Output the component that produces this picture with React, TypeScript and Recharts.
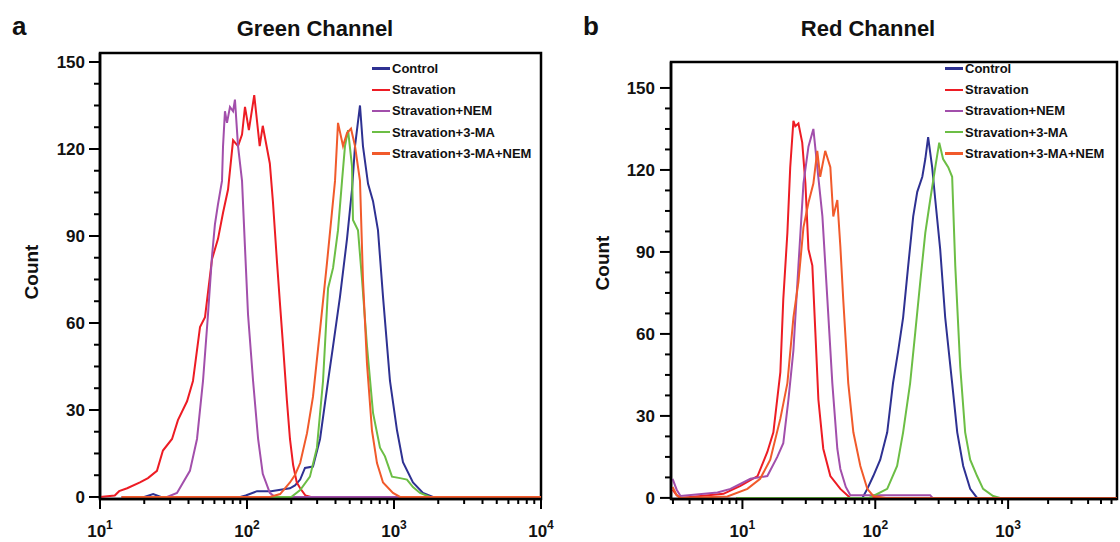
import React from 'react';
import { LineChart, Line, XAxis, YAxis, Legend, ReferenceArea } from 'recharts';

const FONT = '"Liberation Sans", Arial, sans-serif';

const seriesNames = ['Control', 'Stravation', 'Stravation+NEM', 'Stravation+3-MA', 'Stravation+3-MA+NEM'];
const seriesColors = ['#2E3192', '#ED1C24', '#A24FAB', '#6CBE45', '#F15A2B'];

type Pt = [number, number];

// Green channel histograms: [fluorescence, count]
const greenControl: Pt[] = [
  [20, 0], [23, 1], [26, 0], [90, 0], [98, 0.5], [117, 2], [146, 2], [165, 2.4], [196, 3], [212, 4], [230, 6],
  [248, 10], [281, 10.5], [314, 20], [356, 40], [385, 52], [429, 69], [479, 89], [518, 106], [543, 121],
  [587, 135], [615, 121], [666, 108], [720, 102], [778, 92], [842, 69], [939, 40], [1048, 23], [1151, 12],
  [1346, 5], [1574, 1.4], [1841, 0], [10000, 0],
];
const greenStravation: Pt[] = [
  [10, 0], [12.6, 0.5], [13.5, 2], [15.3, 3], [18.7, 5], [21.2, 6.5], [24.4, 9], [26.8, 16], [30.9, 20],
  [33.9, 26.5], [39.1, 33], [42.9, 40], [47.9, 58.6], [51.8, 62], [57.8, 82], [63.5, 89], [68.7, 98],
  [74.3, 106], [80.4, 123], [86.9, 121], [92.5, 125], [96.9, 134.5], [103, 126.5], [112, 138.6], [122, 121],
  [128, 128], [143, 115], [150, 102], [160, 81], [168, 66], [176, 52], [187, 33], [196, 20], [206, 11],
  [218, 5], [230, 3], [250, 0.5], [272, 0], [10000, 0],
];
const greenNem: Pt[] = [
  [14, 0], [28.6, 0], [33.4, 1.4], [40.9, 9], [45.7, 20], [50.2, 40], [54.3, 63], [57.8, 83], [60.5, 94],
  [63.5, 101], [67.6, 109], [68.7, 121], [70.8, 133], [73.1, 129], [76.6, 134.5], [80.4, 133], [82.8, 137],
  [86.9, 121], [92.5, 109], [96.9, 86], [101.6, 63], [110, 40], [119, 20], [128, 8], [143, 1.4], [155, 0],
  [3000, 0],
];
const greenMa: Pt[] = [
  [100, 0], [200, 0], [230, 2.4], [268, 7], [299, 17], [329, 40], [356, 72], [385, 79], [416, 92], [443, 109],
  [464, 121], [487, 126.5], [518, 114], [526, 95.5], [569, 92], [606, 75], [655, 52], [720, 29], [803, 17],
  [868, 14], [969, 7], [1099, 6.5], [1225, 6], [1346, 3.4], [1503, 1.4], [1758, 0], [10000, 0],
];
const greenMaNem: Pt[] = [
  [14, 0], [143, 0], [168, 1], [196, 5], [212, 7.6], [230, 11.7], [256, 22], [281, 34.5], [314, 57.6],
  [350, 80.7], [378, 98], [397, 109], [416, 129], [450, 121], [479, 125.5], [510, 127], [543, 121],
  [587, 109], [615, 75], [655, 46], [708, 23], [766, 11.7], [842, 5], [984, 1.4], [1099, 0], [10000, 0],
];

// Red channel histograms: [fluorescence, count]
const redControl: Pt[] = [
  [9, 0], [80, 0], [87.1, 3.3], [96.6, 8], [109, 14], [123, 24], [136, 42], [149, 54], [162, 66], [177, 85],
  [193, 103], [207, 112], [226, 117.5], [238, 124], [250, 132], [268, 121], [283, 109], [308, 91], [336, 66],
  [379, 42], [414, 24], [459, 11.7], [518, 3.3], [584, 0], [6600, 0],
];
const redStravation: Pt[] = [
  [2.98, 3], [3.2, 1], [3.42, 0], [7.2, 1.5], [9.66, 4.4], [13, 8], [15.4, 16.8], [17.1, 24], [19.3, 46],
  [20.3, 72.6], [21.8, 97], [22.9, 121], [24.2, 138], [25, 136], [26.4, 137], [28.2, 130], [29.8, 115],
  [31.4, 91], [33.6, 85], [35.4, 60.6], [37.3, 36], [40.6, 18], [45.9, 8], [54.6, 3.3], [64.9, 0], [6600, 0],
];
const redNem: Pt[] = [
  [2.98, 7], [3.2, 3], [3.42, 0.7], [6.49, 2], [8.13, 3.3], [11.5, 7], [15.4, 8], [18.3, 15], [20.3, 20],
  [22.2, 36], [24.2, 54], [26.4, 85], [28.8, 115], [31.4, 128.5], [34.2, 135], [36.6, 121], [40, 103],
  [43.6, 72.6], [47.5, 42], [51.8, 18], [54.6, 10.6], [60, 4], [64.9, 1], [100, 1], [259, 1], [270, 0],
  [6600, 0],
];
const redMa: Pt[] = [
  [9, 0], [90, 0], [96.6, 0.7], [123, 3.3], [146, 11.7], [162, 24], [183, 42], [200, 60.6], [218, 79],
  [238, 97], [259, 109], [283, 121], [303, 130], [324, 124], [354, 121], [379, 117.5], [400, 85], [436, 48],
  [475, 24], [518, 14], [584, 8], [648, 3.3], [771, 0.7], [871, 0], [6600, 0],
];
const redMaNem: Pt[] = [
  [2.98, 4], [3.2, 1], [3.42, 0], [7.71, 0.5], [10.9, 3.3], [13.6, 7], [16.2, 14], [19.3, 29], [21.8, 42],
  [24.2, 66], [26.4, 79], [28.8, 99], [31.4, 108], [34.2, 115], [36.6, 127], [38.5, 117.5], [42, 127],
  [45.9, 121], [48.3, 103], [51.8, 109], [54.6, 92], [57.4, 72.6], [62.6, 42], [68.4, 24], [77.2, 11.7],
  [87.1, 3.3], [96.6, 0.7], [120, 0], [6600, 0],
];

const greenXTicks = [10, 20, 30, 40, 50, 60, 70, 80, 90, 100, 200, 300, 400, 500, 600, 700, 800, 900,
  1000, 2000, 3000, 4000, 5000, 6000, 7000, 8000, 9000, 10000];
const redXTicks = [3, 4, 5, 6, 7, 8, 9, 10, 20, 30, 40, 50, 60, 70, 80, 90, 100, 200, 300, 400, 500, 600,
  700, 800, 900, 1000, 2000, 3000, 4000, 5000, 6000];
const yTicks = [0, 7.5, 15, 22.5, 30, 37.5, 45, 52.5, 60, 67.5, 75, 82.5, 90, 97.5, 105, 112.5, 120,
  127.5, 135, 142.5, 150];
const yLabels = [0, 30, 60, 90, 120, 150];

const XTick = (props: any) => {
  const { x, y, payload } = props;
  const exp = Math.log10(payload.value);
  const major = Math.abs(exp - Math.round(exp)) < 1e-6;
  return (
    <g>
      <line x1={x} x2={x} y1={y} y2={y + (major ? 10 : 5)} stroke="#000" strokeWidth={2} />
      {major && (
        <text x={x} y={y + 38} textAnchor="middle" fontSize={17} fontWeight="bold" fill="#111" fontFamily={FONT}>
          10<tspan dy={-8} fontSize={12}>{Math.round(exp)}</tspan>
        </text>
      )}
    </g>
  );
};

const YTick = (props: any) => {
  const { x, y, payload, gap } = props;
  const major = yLabels.includes(payload.value);
  return (
    <g>
      <line x1={x} x2={x - (major ? 11 : 6)} y1={y} y2={y} stroke="#000" strokeWidth={2} />
      {major && (
        <text x={x - gap} y={y + 6} textAnchor="end" fontSize={17} fontWeight="bold" fill="#111" fontFamily={FONT}>
          {payload.value}
        </text>
      )}
    </g>
  );
};

// legend in the original series order (the default payload comes back sorted)
const renderLegend = () => (
  <div>
    {seriesNames.map((name, i) => (
      <div key={name} style={{ display: 'flex', alignItems: 'center', height: 21.2 }}>
        <div style={{ width: 18, height: 2.5, background: seriesColors[i], marginRight: 2 }} />
        <span style={{ fontSize: 13, fontWeight: 'bold', fontFamily: FONT, color: '#111', whiteSpace: 'nowrap' }}>
          {name}
        </span>
      </div>
    ))}
  </div>
);

function Histogram(props: any) {
  const { series, xDomain, xTicks, yDomain, margin, legendLeft, labelGap } = props;
  return (
    <LineChart width={560} height={542} margin={margin} style={{ fontFamily: FONT }}>
      <XAxis
        dataKey="x" type="number" scale="log" domain={xDomain} ticks={xTicks} interval={0}
        allowDataOverflow height={43} tickSize={0} tickMargin={0} tickLine={false}
        axisLine={{ stroke: '#000', strokeWidth: 2.5 }} tick={<XTick />}
      />
      <YAxis
        type="number" domain={yDomain} ticks={yTicks} interval={0} allowDataOverflow width={60}
        tickSize={0} tickMargin={0} tickLine={false}
        axisLine={{ stroke: '#000', strokeWidth: 2.5 }} tick={<YTick gap={labelGap} />}
      />
      <ReferenceArea
        x1={xDomain[0]} x2={xDomain[1]} y1={yDomain[0]} y2={yDomain[1]}
        fill="none" stroke="#000" strokeWidth={2.5} ifOverflow="visible"
      />
      <Legend
        layout="vertical" align="center" verticalAlign="middle" content={renderLegend}
        wrapperStyle={{ top: 58, left: legendLeft, width: 'auto' }}
      />
      {series.map((s: Pt[], i: number) => (
        <Line
          key={seriesNames[i]}
          name={seriesNames[i]}
          data={s.map(([x, y]) => ({ x, y }))}
          dataKey="y"
          type="linear"
          stroke={seriesColors[i]}
          strokeWidth={2}
          dot={false}
          activeDot={false}
          isAnimationActive={false}
        />
      ))}
    </LineChart>
  );
}

export default function App() {
  const titleStyle = { fontSize: 22, fontWeight: 'bold', fill: '#111', fontFamily: FONT } as any;
  return (
    <div style={{ position: 'absolute', left: 0, top: 0, width: 1120, height: 542, background: '#fff' }}>
      <svg width={1120} height={542} style={{ position: 'absolute', left: 0, top: 0 }}>
        <text x={12} y={35} fontSize={26} fontWeight="bold" fill="#111" fontFamily={FONT}>a</text>
        <text x={583} y={35} fontSize={26} fontWeight="bold" fill="#111" fontFamily={FONT}>b</text>
        <text x={315} y={36} textAnchor="middle" {...titleStyle}>Green Channel</text>
        <text x={868} y={36} textAnchor="middle" {...titleStyle}>Red Channel</text>
        <text transform="translate(38,272) rotate(-90)" textAnchor="middle" fontSize={19} fontWeight="bold" fill="#111" fontFamily={FONT}>Count</text>
        <text transform="translate(609,263) rotate(-90)" textAnchor="middle" fontSize={19} fontWeight="bold" fill="#111" fontFamily={FONT}>Count</text>
      </svg>
      <div style={{ position: 'absolute', left: 0, top: 0 }}>
        <Histogram
          series={[greenControl, greenStravation, greenNem, greenMa, greenMaNem]}
          xDomain={[10, 10000]} xTicks={greenXTicks} yDomain={[-0.7, 153.1]}
          margin={{ top: 53, right: 19, bottom: 0, left: 40 }} legendLeft={372} labelGap={15}
        />
      </div>
      <div style={{ position: 'absolute', left: 560, top: 0 }}>
        <Histogram
          series={[redControl, redStravation, redNem, redMa, redMaNem]}
          xDomain={[2.9, 6600]} xTicks={redXTicks} yDomain={[-0.4, 159.5]}
          margin={{ top: 62, right: 3, bottom: 0, left: 51 }} legendLeft={385} labelGap={16}
        />
      </div>
    </div>
  );
}
